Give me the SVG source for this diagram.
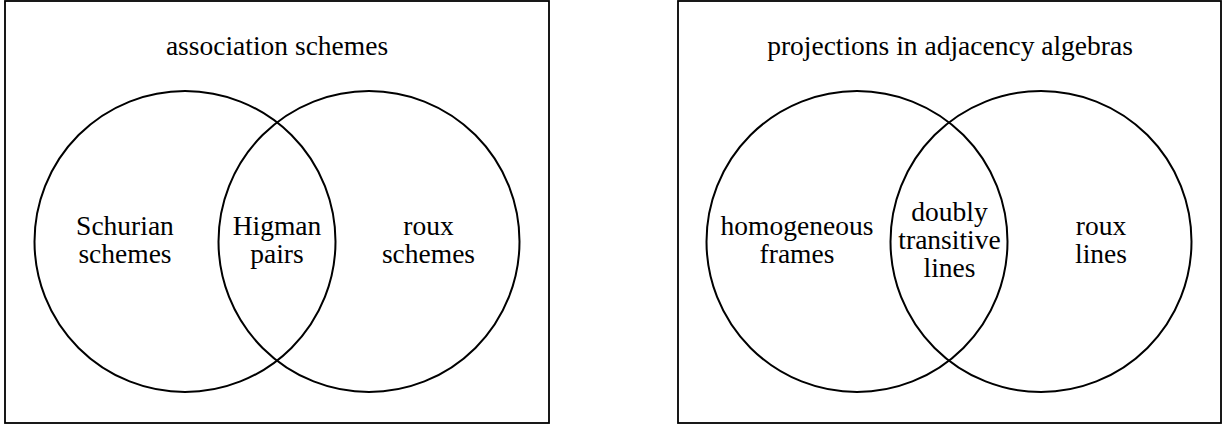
<svg xmlns="http://www.w3.org/2000/svg" width="1225" height="425" viewBox="0 0 1225 425">
<style>
.frame{fill:none;stroke:#000;stroke-width:1.8}
.c{fill:none;stroke:#000;stroke-width:2}
text{font-family:"Liberation Serif","Times New Roman",serif;font-size:27.5px;fill:#000;text-anchor:middle}
</style>
<rect width="1225" height="425" fill="#fff"/>
<g id="panel-left">
<rect class="frame" x="5" y="1" width="544" height="422"/>
<text x="277" y="55">association schemes</text>
</g>
<g id="panel-right">
<rect class="frame" x="678" y="1" width="543" height="422"/>
<text x="950" y="55">projections in adjacency algebras</text>
</g>
<g id="circles">
<circle class="c" cx="185" cy="241.5" r="150.5"/>
<circle class="c" cx="369" cy="241.5" r="150.5"/>
<circle class="c" cx="857" cy="241.5" r="150.5"/>
<circle class="c" cx="1041" cy="241.5" r="150.5"/>
</g>
<g id="node-schurian"><text x="125" y="235">Schurian<tspan x="125" y="263">schemes</tspan></text></g>
<g id="node-higman"><text x="277" y="235">Higman<tspan x="277" y="263">pairs</tspan></text></g>
<g id="node-roux-schemes"><text x="428.5" y="235">roux<tspan x="428.5" y="263">schemes</tspan></text></g>
<g id="node-homogeneous"><text x="797" y="235">homogeneous<tspan x="797" y="263">frames</tspan></text></g>
<g id="node-doubly"><text x="949.5" y="221">doubly<tspan x="949.5" y="249">transitive</tspan><tspan x="949.5" y="277">lines</tspan></text></g>
<g id="node-roux-lines"><text x="1101" y="235">roux<tspan x="1101" y="263">lines</tspan></text></g>
</svg>
